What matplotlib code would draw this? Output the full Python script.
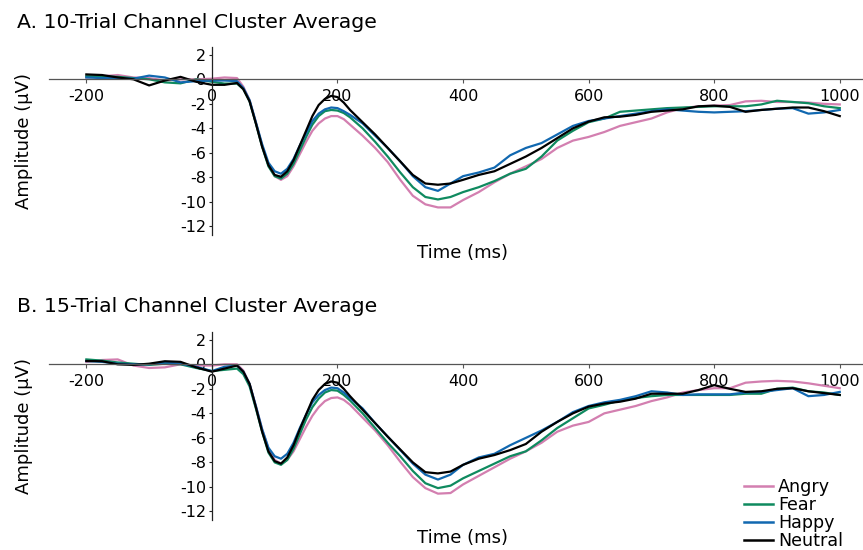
import numpy as np
import matplotlib.pyplot as plt

# sample times (ms)
times = [-200, -175, -150, -125, -100, -75, -50, -25, 0, 20,
         40, 50, 60, 70, 80, 90, 100, 110, 120, 130, 140, 150, 160, 170, 180, 190, 200, 210, 220,
         240, 260, 280, 300, 320, 340, 360, 380, 400,
         425, 450, 475, 500, 525, 550, 575, 600,
         625, 650, 675, 700, 725, 750, 775, 800,
         825, 850, 875, 900, 925, 950, 975, 1000]

# A. 10-trial averages (uV)
angry_10 = [0.15, 0.25, 0.35, 0.15, 0.1, -0.1, 0.0, 0.0, 0.05, 0.15,
            0.1, -0.6, -1.7, -3.5, -5.4, -7.0, -7.9, -8.2, -7.9, -7.1, -6.1, -5.1, -4.2, -3.6, -3.2, -3.0, -3.0, -3.25, -3.7,
            -4.6, -5.6, -6.75, -8.2, -9.5, -10.2, -10.45, -10.45, -9.85,
            -9.2, -8.4, -7.7, -7.1, -6.5, -5.6, -5.0, -4.7,
            -4.3, -3.8, -3.5, -3.2, -2.7, -2.35, -2.2, -2.15,
            -2.1, -1.8, -1.75, -1.85, -1.85, -1.9, -2.0, -2.05]
fear_10 = [0.25, 0.25, 0.2, 0.1, 0.0, -0.25, -0.33, 0.0, -0.2, -0.35,
           -0.35, -0.8, -1.8, -3.6, -5.5, -7.1, -7.9, -8.1, -7.7, -6.9, -5.8, -4.7, -3.7, -3.0, -2.6, -2.5, -2.55, -2.75, -3.1,
           -4.0, -5.1, -6.3, -7.6, -8.8, -9.6, -9.8, -9.6, -9.2,
           -8.8, -8.3, -7.7, -7.3, -6.3, -5.0, -4.2, -3.5,
           -3.2, -2.65, -2.55, -2.45, -2.35, -2.3, -2.25, -2.2,
           -2.2, -2.2, -2.05, -1.75, -1.85, -1.95, -2.2, -2.35]
happy_10 = [0.15, 0.1, 0.1, 0.05, 0.3, 0.15, -0.25, -0.15, -0.1, -0.1,
            -0.15, -0.7, -1.7, -3.5, -5.3, -6.8, -7.5, -7.7, -7.3, -6.5, -5.4, -4.4, -3.4, -2.8, -2.45, -2.3, -2.35, -2.6, -2.9,
            -3.6, -4.6, -5.6, -6.7, -7.9, -8.8, -9.1, -8.5, -7.9,
            -7.6, -7.2, -6.2, -5.6, -5.2, -4.5, -3.8, -3.4,
            -3.2, -3.0, -2.8, -2.6, -2.45, -2.55, -2.65, -2.7,
            -2.65, -2.6, -2.5, -2.4, -2.35, -2.8, -2.7, -2.5]
neutral_10 = [0.4, 0.35, 0.15, 0.0, -0.5, -0.1, 0.2, -0.2, -0.45, -0.45,
              -0.3, -0.8, -1.8, -3.6, -5.5, -7.0, -7.8, -7.95, -7.5, -6.6, -5.4, -4.2, -3.0, -2.1, -1.6, -1.35, -1.45, -1.9, -2.5,
              -3.5, -4.5, -5.6, -6.7, -7.8, -8.5, -8.6, -8.5, -8.2,
              -7.8, -7.5, -6.9, -6.3, -5.6, -4.8, -4.0, -3.45,
              -3.1, -3.05, -2.9, -2.65, -2.55, -2.45, -2.2, -2.15,
              -2.25, -2.65, -2.5, -2.4, -2.3, -2.3, -2.6, -3.0]

# B. 15-trial averages (uV)
angry_15 = [0.2, 0.35, 0.4, -0.1, -0.3, -0.25, 0.0, -0.1, -0.1, 0.0,
            0.0, -0.5, -1.6, -3.4, -5.3, -6.9, -7.8, -8.1, -7.8, -7.1, -6.1, -5.1, -4.2, -3.5, -3.0, -2.75, -2.7, -2.9, -3.3,
            -4.35, -5.4, -6.6, -7.95, -9.2, -10.1, -10.55, -10.5, -9.8,
            -9.1, -8.4, -7.7, -7.1, -6.4, -5.5, -5.0, -4.7,
            -4.0, -3.7, -3.4, -3.0, -2.7, -2.3, -2.1, -1.95,
            -1.95, -1.5, -1.4, -1.35, -1.4, -1.55, -1.75, -1.95]
fear_15 = [0.4, 0.3, 0.15, 0.05, -0.05, 0.05, 0.0, -0.3, -0.55, -0.45,
           -0.35, -0.8, -1.8, -3.6, -5.5, -7.2, -8.0, -8.2, -7.8, -6.9, -5.7, -4.5, -3.5, -2.8, -2.3, -2.1, -2.15, -2.5, -2.95,
           -4.0, -5.2, -6.4, -7.5, -8.7, -9.7, -10.1, -9.9, -9.3,
           -8.7, -8.1, -7.5, -7.1, -6.2, -5.2, -4.4, -3.6,
           -3.3, -2.95, -2.75, -2.6, -2.5, -2.5, -2.5, -2.5,
           -2.5, -2.4, -2.4, -2.0, -1.9, -2.2, -2.3, -2.5]
happy_15 = [0.27, 0.2, 0.05, 0.0, 0.0, 0.15, 0.05, -0.2, -0.55, -0.2,
            -0.1, -0.6, -1.6, -3.4, -5.3, -6.8, -7.5, -7.7, -7.3, -6.4, -5.2, -4.1, -3.1, -2.5, -2.1, -1.9, -1.95, -2.3, -2.75,
            -3.6, -4.8, -5.9, -7.0, -8.1, -9.0, -9.4, -9.0, -8.2,
            -7.6, -7.3, -6.6, -6.0, -5.4, -4.7, -3.9, -3.4,
            -3.1, -2.9, -2.6, -2.2, -2.3, -2.5, -2.45, -2.45,
            -2.45, -2.3, -2.25, -2.1, -1.95, -2.6, -2.5, -2.25]
neutral_15 = [0.27, 0.25, 0.0, -0.05, 0.05, 0.25, 0.2, -0.25, -0.6, -0.35,
              -0.1, -0.6, -1.6, -3.5, -5.5, -7.1, -7.9, -8.1, -7.6, -6.6, -5.3, -4.1, -2.9, -2.1, -1.6, -1.4, -1.5, -2.0, -2.6,
              -3.7, -4.8, -5.9, -6.95, -8.0, -8.8, -8.9, -8.75, -8.2,
              -7.7, -7.4, -7.0, -6.5, -5.5, -4.7, -4.0, -3.45,
              -3.2, -3.05, -2.8, -2.4, -2.4, -2.4, -2.1, -1.7,
              -2.0, -2.25, -2.2, -2.0, -1.95, -2.2, -2.35, -2.5]

conditions = ['Angry', 'Fear', 'Happy', 'Neutral']
colors = ['#D37FB0', '#0F8A5F', '#1168B0', '#000000']
titles = ['A. 10-Trial Channel Cluster Average', 'B. 15-Trial Channel Cluster Average']
x_ticks = [-200, 0, 200, 400, 600, 800, 1000]
y_ticks = [2, 0, -2, -4, -6, -8, -10, -12]

W, H = 863, 550
fig = plt.figure(figsize=(W / 100, H / 100), dpi=100)

panels = [
    (titles[0], [angry_10, fear_10, happy_10, neutral_10], 46.7, 235.0, 27.5),
    (titles[1], [angry_15, fear_15, happy_15, neutral_15], 331.7, 520.0, 312.5),
]

for title, series, top_px, bot_px, title_px in panels:
    ax = fig.add_axes([49.3 / W, 1 - bot_px / H, 1 - 49.3 / W, (bot_px - top_px) / H])
    for vals, name, c in zip(series, conditions, colors):
        ax.plot(times, vals, color=c, lw=1.6, label=name, solid_joinstyle='round')
    ax.set_xlim(-259, 1037)
    ax.set_ylim(-12.7, 2.66)
    ax.spines['top'].set_visible(False)
    ax.spines['right'].set_visible(False)
    ax.spines['left'].set_position(('data', 0))
    ax.spines['bottom'].set_position(('data', 0))
    ax.spines['left'].set_color('#222222')
    ax.spines['bottom'].set_color('#555555')
    ax.spines['left'].set_linewidth(0.9)
    ax.spines['bottom'].set_linewidth(0.9)
    ax.set_xticks(x_ticks)
    ax.set_yticks(y_ticks)
    ax.set_xticklabels([str(t) for t in x_ticks])
    ax.set_yticklabels([str(v) for v in y_ticks])
    ax.tick_params(axis='x', length=3, pad=4, labelsize=11.5, color='#555555')
    ax.tick_params(axis='y', length=2.5, pad=1.5, labelsize=11.5, color='#222222')
    ax.patch.set_visible(False)

    fig.text(17 / W, 1 - title_px / H, title, fontsize=14.7, va='baseline', ha='left')
    fig.text(24 / W, 1 - (top_px + bot_px) / 2 / H, 'Amplitude (µV)', fontsize=13,
             rotation=90, va='center', ha='center')
    fig.text(462.5 / W, 1 - (bot_px + 18) / H, 'Time (ms)', fontsize=13, va='center', ha='center')

leg = ax.legend(loc='lower left', bbox_to_anchor=(744 / W, 0.0), bbox_transform=fig.transFigure,
                frameon=False, fontsize=12.6, handlelength=1.64, handletextpad=0.32,
                labelspacing=0.0, borderpad=0, borderaxespad=0)
for line in leg.get_lines():
    line.set_linewidth(1.8)

fig.savefig('out.png', dpi=100)
